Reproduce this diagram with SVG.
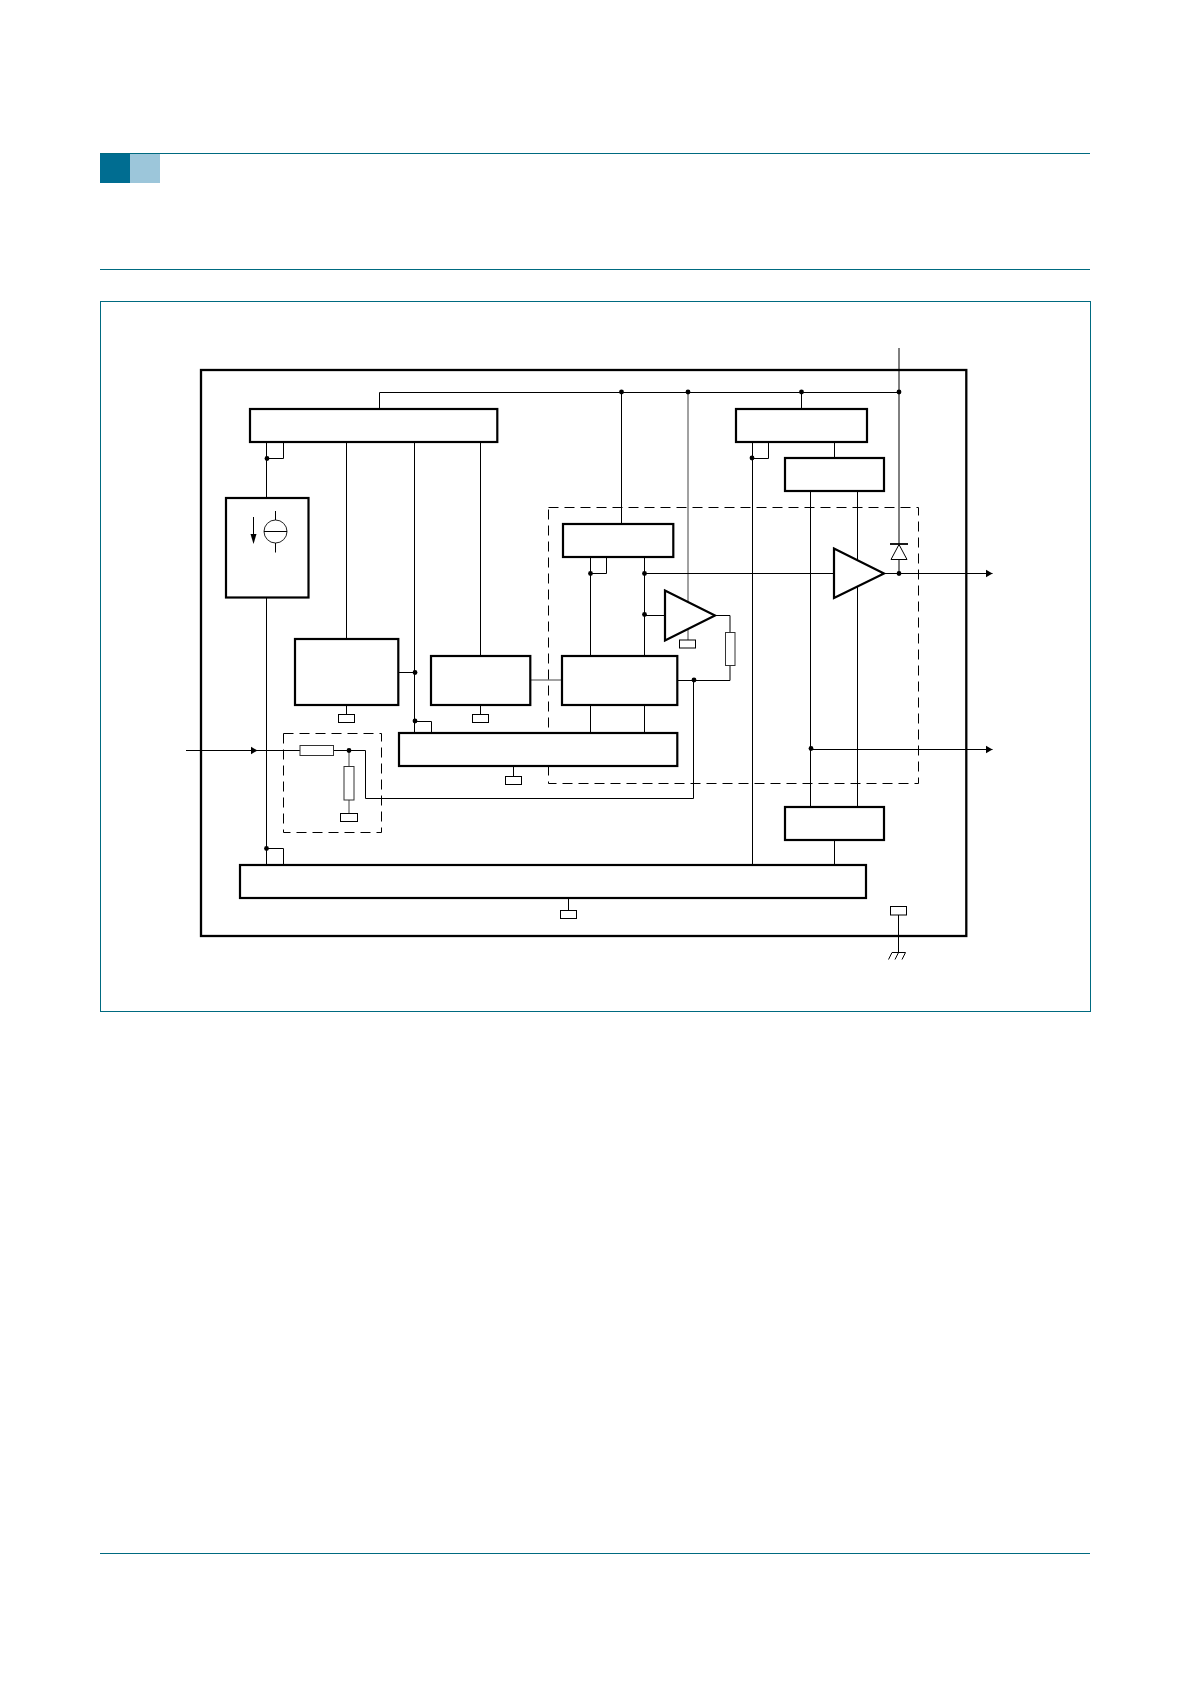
<svg xmlns="http://www.w3.org/2000/svg" width="1190" height="1684" viewBox="0 0 1190 1684">
<style>
.page{fill:none;stroke:#006a80;stroke-width:1}
.chip{fill:none;stroke:#000;stroke-width:2.3}
.blk{fill:#fff;stroke:#000;stroke-width:2.2}
.pin{fill:#fff;stroke:#000;stroke-width:1}
.res{fill:#fff;stroke:#333;stroke-width:1}
.dash{fill:none;stroke:#000;stroke-width:1;stroke-dasharray:10 6}
.w{fill:none;stroke:#000;stroke-width:1}
.g{fill:none;stroke:#444;stroke-width:1}
.d{fill:#000}
</style>
<defs>
<marker id="ah" markerUnits="userSpaceOnUse" markerWidth="8" markerHeight="9" refX="7" refY="4.5" orient="auto"><path d="M0,0.5 L7,4.5 L0,8.5 Z" fill="#000"/></marker>
</defs>
<g id="page">
<rect x="100" y="153" width="30" height="30" fill="#006d91"/>
<rect x="130" y="153" width="30" height="30" fill="#9cc6da"/>
<path class="page" d="M100,153.5H1090M100,269.5H1090M100,1553.5H1090"/>
<rect class="page" x="100.5" y="301.5" width="990" height="710"/>
</g>
<g id="chip"><rect class="chip" x="201" y="370" width="765.3" height="566"/></g>
<g id="connectors">
<path class="w" d="M379.5,409V392.5H899"/>
<path class="w" d="M899,348V544M899,560V573.5"/>
<path class="w" d="M621.5,392.5V524"/>
<path class="g" d="M688,392.5V602M688,629V640"/>
<path class="w" d="M801.5,392.5V409"/>
<path class="w" d="M266.5,441.5V497.5M266.5,458.5H283.5V441.5"/>
<path class="w" d="M266.5,597V865M266.5,848.5H283.5V865"/>
<path class="w" d="M346.5,441.5V639M414.5,441.5V733M480.5,441.5V656"/>
<path class="w" d="M398,672.5H415M414.5,721.5H431.5V733"/>
<path class="w" d="M346.5,705V714.5M480.5,705V714.5M513.5,765.5V776.5M568.5,897.5V910"/>
<path class="g" d="M530,680H562"/>
<path class="w" d="M590.5,557V656M644.5,557V656M590.5,705V733M644.5,705V733"/>
<path class="w" d="M590.5,573.5H606.5V557"/>
<path class="w" d="M644.5,573.5H884M884,573.5H992.5" marker-end="url(#ah)"/>
<path class="w" d="M644.5,615.5H665"/>
<path class="w" d="M715,615.5H730V632.5M730,665.5V680.5H677M693.5,680.5V798.5H365.5V750.5"/>
<path class="w" d="M834.5,441.5V458M752.5,441.5V865M752.5,458.5H768.5V441.5"/>
<path class="w" d="M810.5,491V807M857.5,491V807M834.5,840V865"/>
<path class="w" d="M810.5,749.5H992.5" marker-end="url(#ah)"/>
<path class="w" d="M186,750.5H257.5" marker-end="url(#ah)"/>
<path class="w" d="M257,750.5H300M333.5,750.5H365.5"/>
<path class="g" d="M349,750.5V766M349,800V813"/>
<path class="w" d="M898.5,915V952"/>
</g>
<g id="dashed-output"><rect class="dash" x="548.5" y="507.5" width="370" height="276"/></g>
<g id="dashed-input"><rect class="dash" x="283.5" y="733.5" width="98" height="99"/></g>
<g id="block-top-left"><rect class="blk" x="250" y="409" width="247.3" height="33"/></g>
<g id="block-top-right"><rect class="blk" x="736" y="409" width="131" height="33"/></g>
<g id="block-g"><rect class="blk" x="785" y="458" width="99" height="33"/></g>
<g id="block-source"><rect class="blk" x="226" y="498" width="82.5" height="99.5"/>
<circle cx="275.5" cy="531.5" r="11.5" fill="none" stroke="#222" stroke-width="1"/>
<path class="w" d="M275.5,511V520M275.5,543V552.5M264,531.5H287"/>
<path class="w" d="M253.5,517V536"/><path class="d" d="M250.5,534H256.5L253.5,544Z"/>
</g>
<g id="block-a"><rect class="blk" x="295" y="639" width="103.3" height="66"/></g>
<rect class="pin" id="pin-a" x="338.5" y="714.5" width="16" height="8"/>
<g id="block-b"><rect class="blk" x="431" y="656" width="99.3" height="49"/></g>
<rect class="pin" id="pin-b" x="472.5" y="714.5" width="16" height="8"/>
<g id="block-c"><rect class="blk" x="562" y="656" width="115.3" height="49"/></g>
<g id="block-e"><rect class="blk" x="563" y="524" width="110.3" height="33"/></g>
<g id="block-d"><rect class="blk" x="399" y="733" width="278.3" height="33"/></g>
<rect class="pin" id="pin-d" x="505.5" y="776.5" width="16" height="8"/>
<g id="block-h"><rect class="blk" x="785" y="807" width="99" height="33"/></g>
<g id="block-bottom"><rect class="blk" x="240" y="865" width="626" height="33"/></g>
<rect class="pin" id="pin-bottom" x="560.5" y="910.5" width="16" height="8"/>
<g id="amp-small"><path class="blk" d="M665,590.5V640.5L715,615.5Z"/></g>
<rect class="pin" id="pin-amp" x="679.5" y="640" width="16" height="8"/>
<g id="amp-big"><path class="blk" d="M834,548.5V598L884,573.5Z"/></g>
<g id="diode"><path class="w" d="M899,544.5L891,559.5H907Z"/><path d="M890,544H908" fill="none" stroke="#000" stroke-width="1.8"/></g>
<rect class="res" id="res-fb" x="725.5" y="632.5" width="9.5" height="33"/>
<rect class="res" id="res-h" x="300" y="745.5" width="33.5" height="10"/>
<rect class="res" id="res-v" x="344" y="766.5" width="10" height="33.5"/>
<rect class="pin" id="pin-res" x="340.5" y="813.5" width="17" height="8"/>
<g id="ground"><rect class="pin" x="890.5" y="906.5" width="16" height="8.5"/>
<path class="w" d="M892,952.5H905.5M892,952.5L888.5,959.5M898.5,952.5L895,959.5M905.5,952.5L902,959.5"/></g>
<g id="junctions" class="d">
<circle cx="621.5" cy="392" r="2.4"/><circle cx="688" cy="392" r="2.4"/><circle cx="801.5" cy="392" r="2.4"/><circle cx="899" cy="392" r="2.4"/>
<circle cx="267" cy="458.5" r="2.4"/><circle cx="752" cy="458" r="2.4"/><circle cx="590.5" cy="573.5" r="2.4"/><circle cx="644.5" cy="573.5" r="2.4"/><circle cx="899" cy="573.5" r="2.4"/>
<circle cx="644.5" cy="614.5" r="2.4"/><circle cx="415" cy="672.5" r="2.4"/><circle cx="694" cy="680" r="2.4"/><circle cx="415" cy="721" r="2.4"/>
<circle cx="811" cy="748.5" r="2.4"/><circle cx="349" cy="750.5" r="2.4"/><circle cx="266.5" cy="848.5" r="2.4"/>
</g>
</svg>
